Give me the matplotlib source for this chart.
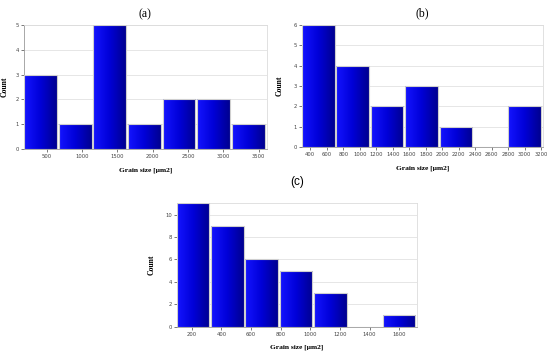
import matplotlib
matplotlib.use("Agg")
import matplotlib.pyplot as plt
import numpy as np
from matplotlib.colors import LinearSegmentedColormap

# histogram data
counts_a = [3, 1, 5, 1, 2, 2, 1]
start_a, width_a = 180, 490
ticks_a = [500, 1000, 1500, 2000, 2500, 3000, 3500]

counts_b = [6, 4, 2, 3, 1, 0, 2]
start_b, width_b = 300, 417
ticks_b = [400, 600, 800, 1000, 1200, 1400, 1600, 1800, 2000, 2200, 2400, 2600, 2800, 3000, 3200]

counts_c = [11, 9, 6, 5, 3, 0, 1]
start_c, width_c = 97, 232
ticks_c = [200, 400, 600, 800, 1000, 1200, 1400, 1600]

XLABEL = "Grain size [\u00b5m2]"
SERIF = ["Liberation Serif", "DejaVu Serif"]

blue_cmap = LinearSegmentedColormap.from_list("bluegrad", ["#1414ff", "#0000d8", "#000090"])
grad = np.linspace(0, 1, 64).reshape(1, -1)


def draw_hist(ax, counts, start, width, ticks, yticks, ymax, title, title_fam, tpad, ylab_x):
    n = len(counts)
    lefts = [start + i * width for i in range(n)]
    bars = ax.bar(lefts, counts, width=width * 0.95, align="edge",
                  color="none", edgecolor="#cfcfcf", linewidth=0.8, zorder=3)
    for b in bars:
        h = b.get_height()
        if h <= 0:
            continue
        x0 = b.get_x()
        im = ax.imshow(grad, extent=[x0, x0 + b.get_width(), 0, h], aspect="auto",
                       cmap=blue_cmap, zorder=2.5, interpolation="bilinear")
        im.set_clip_path(b)
    ax.set_xlim(start, start + n * width)
    ax.set_ylim(0, ymax)
    ax.set_xticks(ticks)
    ax.set_yticks(yticks)
    ax.tick_params(axis="both", labelsize=3.8, length=2, width=0.5,
                   colors="#444444", pad=1.5)
    ax.grid(axis="y", color="#e2e2e2", linewidth=0.6, zorder=0)
    ax.set_axisbelow(True)
    for s in ["top", "right"]:
        ax.spines[s].set_color("#dcdcdc")
        ax.spines[s].set_linewidth(0.6)
    for s in ["left", "bottom"]:
        ax.spines[s].set_color("#9a9a9a")
        ax.spines[s].set_linewidth(0.6)
    ax.set_xlabel(XLABEL, family=SERIF, fontweight="bold", fontsize=5.4, labelpad=6)
    ax.set_ylabel("Count", family=SERIF, fontweight="bold", fontsize=5.6)
    ax.yaxis.set_label_coords(ylab_x, 0.5)
    ax.set_title(title, family=title_fam, fontsize=8.5, pad=tpad)


fig = plt.figure(figsize=(5.5, 3.57), dpi=100)
fig.patch.set_facecolor("white")

ax_a = fig.add_axes([0.0436, 0.5826, 0.441, 0.347])
draw_hist(ax_a, counts_a, start_a, width_a, ticks_a, range(0, 6), 5, "(a)", SERIF, 6, -0.062)

ax_b = fig.add_axes([0.549, 0.588, 0.438, 0.342])
draw_hist(ax_b, counts_b, start_b, width_b, ticks_b, range(0, 7), 6, "(b)", SERIF, 6, -0.075)

ax_c = fig.add_axes([0.321, 0.0849, 0.4375, 0.3456])
draw_hist(ax_c, counts_c, start_c, width_c, ticks_c, range(0, 11, 2), 11, "(c)",
          ["Liberation Sans", "DejaVu Sans"], 13, -0.086)

fig.savefig("out.png", dpi=100)
